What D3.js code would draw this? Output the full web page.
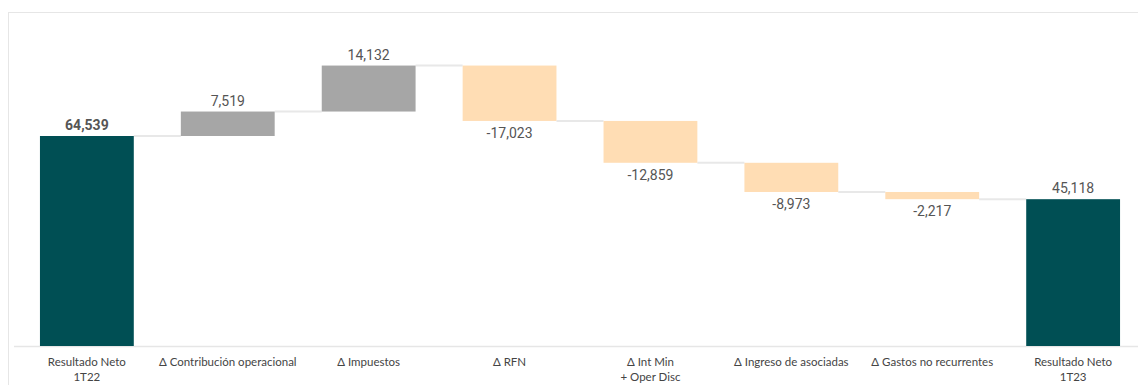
<!DOCTYPE html>
<html><head><meta charset="utf-8">
<script src="https://cdn.jsdelivr.net/npm/d3@7"></script>
<style>body{margin:0;background:#fff}svg{display:block}</style>
</head><body><svg id="c" width="1138" height="385"></svg>
<script>
const categories = [["Resultado Neto","1T22"],["Δ Contribución operacional"],["Δ Impuestos"],["Δ RFN"],["Δ Int Min","+ Oper Disc"],["Δ Ingreso de asociadas"],["Δ Gastos no recurrentes"],["Resultado Neto","1T23"]];
const values = [64539, 7519, 14132, -17023, -12859, -8973, -2217, 45118];
const kinds = ["total","up","up","down","down","down","down","total"];
const labels = ["64,539","7,519","14,132","-17,023","-12,859","-8,973","-2,217","45,118"];

const svg = d3.select("#c");
const colors = {total:"#004F54", up:"#A6A6A6", down:"#FFDDB4"};
// frame
svg.append("line").attr("x1",8.5).attr("x2",8.5).attr("y1",12).attr("y2",385).attr("stroke","#e6e6e6");
svg.append("line").attr("x1",8).attr("x2",1138).attr("y1",12.5).attr("y2",12.5).attr("stroke","#e6e6e6");

const x = d3.scaleBand().domain(d3.range(values.length)).range([16, 1144]).paddingInner(0.334).paddingOuter(0.17);
const y = d3.scaleLinear().domain([0, 64539]).range([346, 136]);

// compute running
let run = 0;
const bars = values.map((v,i)=>{
  let y0, y1;
  if (kinds[i]==="total"){ y0=0; y1=v; run=v; }
  else { y0=run; y1=run+v; run=y1; }
  return {i, y0, y1, v, end:run};
});

// axis line
svg.append("line").attr("x1",14).attr("x2",1138).attr("y1",346.5).attr("y2",346.5).attr("stroke","#e6e6e6").attr("stroke-width",1.5);

// connectors
bars.slice(0,-1).forEach((b,i)=>{
  svg.append("line").attr("x1",x(i)+x.bandwidth()).attr("x2",x(i+1))
    .attr("y1",y(b.end)).attr("y2",y(b.end)).attr("stroke","#e8e8e8").attr("stroke-width",2);
});

svg.selectAll("rect.b").data(bars).join("rect").attr("class","b")
  .attr("x",d=>x(d.i)).attr("width",x.bandwidth())
  .attr("y",d=>y(Math.max(d.y0,d.y1))).attr("height",d=>Math.abs(y(d.y0)-y(d.y1)))
  .attr("fill",d=>colors[kinds[d.i]]);

svg.selectAll("text.v").data(bars).join("text").attr("class","v")
  .attr("x",d=>x(d.i)+x.bandwidth()/2)
  .attr("y",d=> d.v>=0 ? y(Math.max(d.y0,d.y1))-6 : y(Math.min(d.y0,d.y1))+17)
  .attr("text-anchor","middle").attr("font-family","Roboto, sans-serif")
  .attr("font-size",14).attr("fill","#555")
  .attr("font-weight",d=>d.i===0?700:400)
  .text(d=>labels[d.i]);

const g = svg.selectAll("text.c").data(categories).join("text").attr("class","c")
  .attr("text-anchor","middle").attr("font-family","Lato, 'Open Sans', sans-serif")
  .attr("font-size",11.5).attr("fill","#444")
  .attr("x",(d,i)=>x(i)+x.bandwidth()/2).attr("y",366);
g.selectAll("tspan").data(d=>d).join("tspan")
  .attr("x",function(){return this.parentNode.getAttribute("x");})
  .attr("dy",(d,j)=>j===0?0:15).text(d=>d);
</script></body></html>
